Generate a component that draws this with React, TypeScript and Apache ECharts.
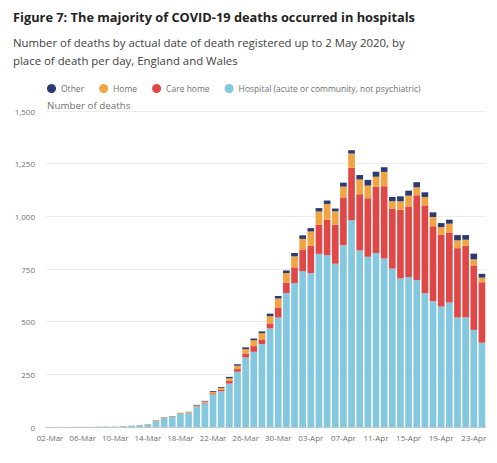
import React, { useEffect, useRef } from "react";
import * as echarts from "echarts";

const dates: string[] = [
  "02-Mar","03-Mar","04-Mar","05-Mar","06-Mar","07-Mar","08-Mar","09-Mar","10-Mar","11-Mar",
  "12-Mar","13-Mar","14-Mar","15-Mar","16-Mar","17-Mar","18-Mar","19-Mar","20-Mar","21-Mar",
  "22-Mar","23-Mar","24-Mar","25-Mar","26-Mar","27-Mar","28-Mar","29-Mar","30-Mar","31-Mar",
  "01-Apr","02-Apr","03-Apr","04-Apr","05-Apr","06-Apr","07-Apr","08-Apr","09-Apr","10-Apr",
  "11-Apr","12-Apr","13-Apr","14-Apr","15-Apr","16-Apr","17-Apr","18-Apr","19-Apr","20-Apr",
  "21-Apr","22-Apr","23-Apr","24-Apr",
];

const hospital: number[] = [
  0, 1, 0, 1, 1, 1, 2, 2, 2, 4,
  6, 9, 12, 27, 42, 48, 62, 66, 96, 112,
  155, 170, 206, 262, 330, 357, 394, 468, 520, 636,
  683, 740, 730, 822, 816, 775, 863, 981, 838, 808,
  826, 800, 752, 705, 712, 698, 635, 597, 572, 591,
  520, 520, 461, 400,
];
const careHome: number[] = [
  0, 0, 0, 0, 0, 0, 0, 0, 0, 0,
  0, 0, 1, 1, 1, 1, 1, 2, 2, 3,
  5, 6, 13, 13, 19, 27, 22, 24, 48, 50,
  75, 100, 130, 138, 167, 186, 227, 249, 267, 278,
  314, 343, 285, 326, 335, 402, 417, 356, 340, 333,
  329, 340, 306, 287,
];
const home: number[] = [
  0, 0, 0, 0, 0, 0, 0, 0, 0, 1,
  1, 1, 1, 3, 2, 2, 3, 3, 4, 6,
  7, 10, 12, 16, 21, 28, 29, 34, 42, 45,
  52, 53, 68, 63, 76, 63, 51, 68, 70, 60,
  48, 68, 35, 40, 51, 38, 40, 44, 37, 41,
  37, 29, 29, 22,
];
const other: number[] = [
  0, 0, 0, 0, 0, 0, 0, 0, 0, 0,
  0, 0, 0, 1, 1, 1, 1, 1, 3, 3,
  4, 4, 7, 7, 8, 8, 9, 12, 12, 12,
  16, 17, 16, 16, 16, 13, 19, 16, 21, 27,
  24, 22, 20, 24, 24, 24, 22, 22, 19, 19,
  25, 22, 27, 18,
];

const yTicks = [0, 250, 500, 750, 1000, 1250, 1500];

const FONT = "'Open Sans', 'Noto Sans', sans-serif";
const COLORS = {
  other: "#2b3a6f",
  home: "#f0a444",
  care: "#e04848",
  hospital: "#84c8e0",
};

export default function App() {
  const ref = useRef<HTMLDivElement>(null);
  useEffect(() => {
    document.body.style.margin = "0";
    if (!ref.current) return;
    const chart = echarts.init(ref.current, undefined, { renderer: "svg" });
    const barCommon = {
      type: "bar" as const,
      stack: "total",
      barCategoryGap: "18%",
    };
    chart.setOption({
      animation: false,
      backgroundColor: "#ffffff",
      textStyle: { fontFamily: FONT },
      title: [
        {
          text: "Figure 7: The majority of COVID-19 deaths occurred in hospitals",
          left: 8,
          top: 5,
          textStyle: { fontFamily: FONT, fontSize: 12.8, fontWeight: "bold", color: "#222222" },
        },
        {
          text: "Number of deaths by actual date of death registered up to 2 May 2020, by\nplace of death per day, England and Wales",
          left: 8,
          top: 29,
          textStyle: { fontFamily: FONT, fontSize: 11.4, fontWeight: "normal", color: "#414042", lineHeight: 17.5 },
        },
      ],
      legend: {
        data: ["Other", "Home", "Care home", "Hospital (acute or community, not psychiatric)"],
        left: 42,
        top: 79,
        icon: "circle",
        itemWidth: 9,
        itemHeight: 9,
        itemGap: 15,
        textStyle: { fontFamily: FONT, fontSize: 8.5, color: "#707070" },
      },
      graphic: [
        {
          type: "text",
          left: 47,
          top: 100,
          style: { text: "Number of deaths", fontFamily: FONT, fontSize: 9.8, fill: "#707070" },
        },
      ],
      grid: { left: 46, right: 11, top: 111, bottom: 36, containLabel: false },
      xAxis: {
        type: "category",
        data: dates,
        axisLine: { lineStyle: { color: "#c8c8c8" } },
        axisTick: { alignWithLabel: true, interval: 3, length: 4, lineStyle: { color: "#c8c8c8" } },
        axisLabel: { interval: 3, fontSize: 8, color: "#707070", fontFamily: FONT, margin: 6 },
      },
      yAxis: {
        type: "value",
        min: yTicks[0],
        max: yTicks[yTicks.length - 1],
        interval: 250,
        axisLine: { show: false },
        axisTick: { show: false },
        splitLine: { lineStyle: { color: "#ececec" } },
        axisLabel: {
          fontSize: 8,
          color: "#707070",
          fontFamily: FONT,
          margin: 11,
          formatter: (v: number) => v.toLocaleString("en-GB"),
        },
      },
      series: [
        { ...barCommon, name: "Hospital (acute or community, not psychiatric)", data: hospital, itemStyle: { color: COLORS.hospital } },
        { ...barCommon, name: "Care home", data: careHome, itemStyle: { color: COLORS.care } },
        { ...barCommon, name: "Home", data: home, itemStyle: { color: COLORS.home } },
        { ...barCommon, name: "Other", data: other, itemStyle: { color: COLORS.other } },
      ],
    });
    return () => chart.dispose();
  }, []);
  return <div ref={ref} style={{ width: 497, height: 463 }} />;
}
